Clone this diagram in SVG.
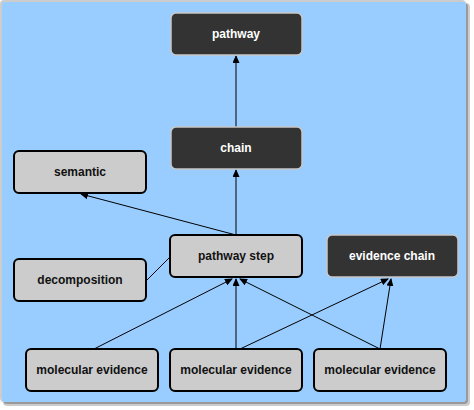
<svg xmlns="http://www.w3.org/2000/svg" width="474" height="410" viewBox="0 0 474 410">
<style>
.dark rect{fill:#333333;stroke:#c8c8c8;stroke-width:1.5}
.light rect{fill:#cccccc;stroke:#000000;stroke-width:2}
text{font-family:"Liberation Sans",Arial,sans-serif;font-size:12px;font-weight:bold;text-anchor:middle}
.dark text{fill:#ffffff}
.light text{fill:#111111}
#edges line{stroke:#000000;stroke-width:1}
</style>
<defs>
<marker id="arr" markerWidth="8" markerHeight="7" refX="7" refY="3.5" orient="auto" markerUnits="userSpaceOnUse">
<path d="M0,0 L8,3.5 L0,7 z" fill="#000000"/>
</marker>
</defs>
<rect x="3" y="3" width="467" height="403" rx="4" fill="#cccccc"/>
<rect x="3" y="3" width="465" height="401" rx="4" fill="#999999"/>
<rect x="0" y="0" width="466" height="402" rx="4" fill="#cccccc"/>
<rect x="2" y="2" width="464" height="400" rx="3" fill="#99ccff"/>
<g id="edges">
<line x1="236" y1="127" x2="236" y2="56" marker-end="url(#arr)"/>
<line x1="236" y1="235" x2="236" y2="170" marker-end="url(#arr)"/>
<line x1="236" y1="235" x2="81" y2="194" marker-end="url(#arr)"/>
<line x1="146" y1="281" x2="170" y2="257"/>
<line x1="94" y1="349" x2="232" y2="279" marker-end="url(#arr)"/>
<line x1="236" y1="349" x2="236" y2="279" marker-end="url(#arr)"/>
<line x1="380" y1="349" x2="240" y2="279" marker-end="url(#arr)"/>
<line x1="240" y1="349" x2="388" y2="279" marker-end="url(#arr)"/>
<line x1="380" y1="349" x2="391" y2="279" marker-end="url(#arr)"/>
</g>
<g id="pathway" class="dark"><rect x="171" y="13" width="131" height="42" rx="5"/><text x="236" y="38">pathway</text></g>
<g id="chain" class="dark"><rect x="171" y="127" width="131" height="42" rx="5"/><text x="236" y="152">chain</text></g>
<g id="semantic" class="light"><rect x="14" y="151" width="132" height="42" rx="5"/><text x="80" y="176">semantic</text></g>
<g id="pathway-step" class="light"><rect x="170" y="235" width="132" height="42" rx="5"/><text x="236" y="260">pathway step</text></g>
<g id="evidence-chain" class="dark"><rect x="327" y="235" width="131" height="42" rx="5"/><text x="392" y="260">evidence chain</text></g>
<g id="decomposition" class="light"><rect x="14" y="259" width="132" height="42" rx="5"/><text x="80" y="284">decomposition</text></g>
<g id="molecular-evidence-1" class="light"><rect x="26" y="349" width="132" height="42" rx="5"/><text x="92" y="374">molecular evidence</text></g>
<g id="molecular-evidence-2" class="light"><rect x="170" y="349" width="132" height="42" rx="5"/><text x="236" y="374">molecular evidence</text></g>
<g id="molecular-evidence-3" class="light"><rect x="314" y="349" width="132" height="42" rx="5"/><text x="380" y="374">molecular evidence</text></g>
</svg>
